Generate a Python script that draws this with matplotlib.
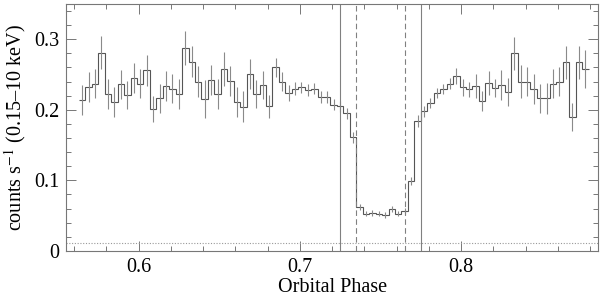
import numpy as np
import matplotlib
matplotlib.use("Agg")
import matplotlib.pyplot as plt
from matplotlib.ticker import MultipleLocator

plt.rcParams['font.family'] = ['Liberation Serif', 'DejaVu Serif']
plt.rcParams['mathtext.fontset'] = 'stix'

# light curve: 79 bins of 0.004 in phase, first bin starting at 0.563
bin_start = 0.563
bin_width = 0.004
rate = [
    0.214, 0.232, 0.237, 0.281, 0.222, 0.211, 0.236, 0.221, 0.245, 0.237,
    0.256, 0.201, 0.216, 0.234, 0.230, 0.222, 0.287, 0.268, 0.240, 0.215,
    0.242, 0.222, 0.258, 0.241, 0.211, 0.204, 0.251, 0.222, 0.235, 0.205,
    0.260, 0.240, 0.224, 0.230, 0.232, 0.228, 0.230, 0.218, 0.218, 0.207,
    0.205, 0.195, 0.161,
    0.062, 0.053, 0.054, 0.053, 0.051, 0.059, 0.053, 0.057,
    0.099, 0.184, 0.198, 0.210, 0.224, 0.230, 0.237, 0.248, 0.232, 0.229,
    0.234, 0.212, 0.238, 0.231, 0.235, 0.225, 0.280, 0.240, 0.240, 0.229,
    0.216, 0.216, 0.237, 0.240, 0.267, 0.190, 0.267, 0.258,
]
rate_err = [
    0.021, 0.021, 0.021, 0.023, 0.021, 0.021, 0.021, 0.020, 0.021, 0.021,
    0.022, 0.019, 0.020, 0.021, 0.021, 0.021, 0.024, 0.022, 0.022, 0.027,
    0.021, 0.021, 0.024, 0.021, 0.021, 0.022, 0.021, 0.020, 0.020, 0.016,
    0.014, 0.013, 0.011, 0.009, 0.008, 0.008, 0.008, 0.008, 0.008, 0.008,
    0.008, 0.008, 0.008,
    0.004, 0.004, 0.004, 0.004, 0.004, 0.004, 0.004, 0.004,
    0.006, 0.009, 0.008, 0.007, 0.007, 0.007, 0.008, 0.011, 0.012, 0.011,
    0.017, 0.014, 0.017, 0.013, 0.021, 0.020, 0.023, 0.024, 0.021, 0.021,
    0.020, 0.022, 0.021, 0.020, 0.023, 0.020, 0.023, 0.027,
]

eclipse_outer = [0.725, 0.775]
eclipse_inner = [0.735, 0.765]
background = 0.011

rate = np.array(rate)
rate_err = np.array(rate_err)
edges = bin_start + bin_width * np.arange(len(rate) + 1)
centers = 0.5 * (edges[:-1] + edges[1:])

fig = plt.figure(figsize=(6.0, 2.97), dpi=100)
ax = fig.add_axes([0.11, 0.155, 0.887, 0.832])

line_c = '#555555'
ax.stairs(rate, edges, baseline=None, color=line_c, lw=0.8)
ax.errorbar(centers, rate, yerr=rate_err, fmt='none', ecolor='#8a8a8a',
            elinewidth=0.8, capsize=0)

for x in eclipse_outer:
    ax.axvline(x, color='#808080', lw=0.8)
for x in eclipse_inner:
    ax.axvline(x, color='#808080', lw=0.8, ls=(0, (5, 3)))
ax.axhline(background, color='#999999', lw=0.8, ls=(0, (1, 1.5)))

ax.set_xlim(0.555, 0.885)
ax.set_ylim(0, 0.35)
ax.xaxis.set_major_locator(MultipleLocator(0.1))
ax.xaxis.set_minor_locator(MultipleLocator(0.02))
ax.yaxis.set_major_locator(MultipleLocator(0.1))
ax.yaxis.set_minor_locator(MultipleLocator(0.02))
ax.set_yticks([0, 0.1, 0.2, 0.3])
ax.set_yticklabels(['0', '0.1', '0.2', '0.3'])
ax.tick_params(which='both', direction='in', top=True, right=True,
               color='#777777', labelsize=14.5, pad=5)
ax.tick_params(which='major', length=7, width=0.7)
ax.tick_params(which='minor', length=3.5, width=0.7)
for s in ax.spines.values():
    s.set_color('#777777')
    s.set_linewidth(0.8)

ax.set_xlabel('Orbital Phase', fontsize=14.5, labelpad=1)
ax.set_ylabel(r'counts s$^{-1}$ (0.15–10 keV)', fontsize=14.5, labelpad=4)

fig.savefig('out.png', dpi=100)
